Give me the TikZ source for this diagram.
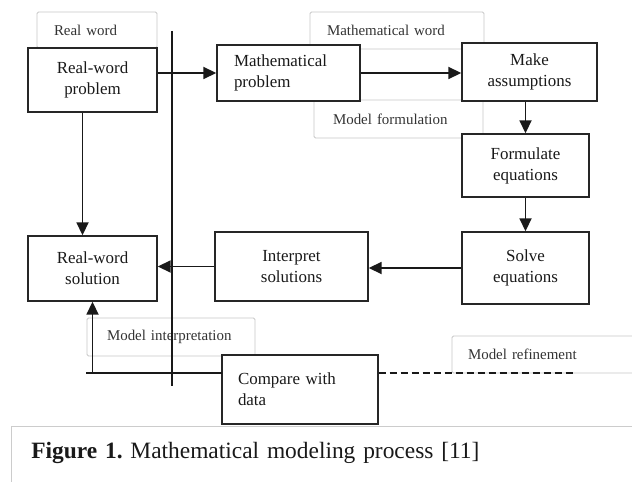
\documentclass[tikz,border=0pt]{standalone}
\usepackage{fontspec}
\setmainfont{Liberation Serif}
\usetikzlibrary{arrows.meta}
\begin{document}
\begin{tikzpicture}[x=1bp,y=-1bp,
  >={Triangle[length=13bp,width=12bp]},
  stage/.style={draw=black!85, line width=1.4bp, fill=white, inner sep=0pt, align=center, text=black!90, font=\fontsize{17}{21}\selectfont},
  tag/.style={draw=black!22, line width=0.8bp, fill=white, rounded corners=1.5bp, inner ysep=0pt, align=left, text=black!80, font=\fontsize{15}{18}\selectfont},
  flow/.style={->, line width=1.8bp, black!90}]
\useasboundingbox (0,0) rectangle (632,482);

% light labels, behind the boxes
\node[tag, minimum height=36bp, inner xsep=17bp, text width=86bp] at (97,30) (realword) {Real word};
\node[tag, minimum height=37bp, inner xsep=17bp, text width=140bp] at (397,30.5) (mathword) {Mathematical word};
\node[tag, minimum height=38bp, inner xsep=19bp, text width=131bp] at (398.5,119) (formul) {Model formulation};
\node[tag, minimum height=38bp, inner xsep=20bp, text width=128bp] at (171,337) (interp) {Model interpretation};
\node[tag, minimum height=37bp, inner xsep=16bp, text width=156bp] at (546,354.5) (refine) {Model refinement};

% process boxes
\node[stage, minimum width=129bp, minimum height=64bp] at (92.5,80) (rwp) {Real-word\\problem};
\node[stage, minimum height=56bp, inner xsep=17bp, text width=109bp, align=left] at (288.5,73) (mp) {Mathematical\\problem};
\node[stage, minimum width=135bp, minimum height=58bp] at (529.5,72) (ma) {Make\\assumptions};
\node[stage, minimum width=127bp, minimum height=63bp] at (525.5,165.5) (fe) {Formulate\\equations};
\node[stage, minimum width=127bp, minimum height=72bp] at (525.5,268) (se) {Solve\\equations};
\node[stage, minimum width=153bp, minimum height=69bp] at (291.5,266.5) (is) {Interpret\\solutions};
\node[stage, minimum width=129bp, minimum height=65bp] at (92.5,268.5) (rws) {Real-word\\solution};
\node[stage, minimum height=69bp, inner xsep=16bp, text width=124bp, align=left] at (300,389.5) (cd) {Compare with\\data};

% caption
\node[draw=black!20, line width=0.8bp, anchor=north west, inner xsep=20bp, inner ysep=0pt, text width=594bp, text height=32bp, text depth=40bp, align=left, text=black!90, font=\fontsize{23.5}{28}\selectfont] at (11,426) (fig) {\textbf{Figure 1.}\ Mathematical modeling process [11]};

\coordinate (vt) at (172,31);
\coordinate (vb) at (172,386);
\coordinate (fb) at (222,373);
\coordinate (fbend) at (86,373);
\coordinate (dashend) at (575,373);

% arrows
\draw[flow] (rwp.east |- mp.west) -- (mp.west);
\draw[flow] (mp.east) -- (mp.east -| ma.west);
\draw[flow] (ma.south -| fe.north) -- (fe.north);
\draw[flow] (fe.south) -- (se.north);
\draw[flow] (se.west) -- (se.west -| is.east);
\draw[flow] (is.west) -- (is.west -| rws.east);
\draw[flow] ([xshift=-10bp]rwp.south) -- ([xshift=-10bp]rws.north);
\draw[line width=1.5bp, black!90] (fb) -- (fbend); % feedback
\draw[flow] (rws.south |- fb) -- (rws.south);
\draw[dashed, dash pattern=on 7bp off 4bp, line width=1.3bp, black!90] (cd.east |- fb) -- (dashend);
\draw[line width=1.5bp, black!90] (vt) -- (vb); % divider

\end{tikzpicture}
\end{document}
